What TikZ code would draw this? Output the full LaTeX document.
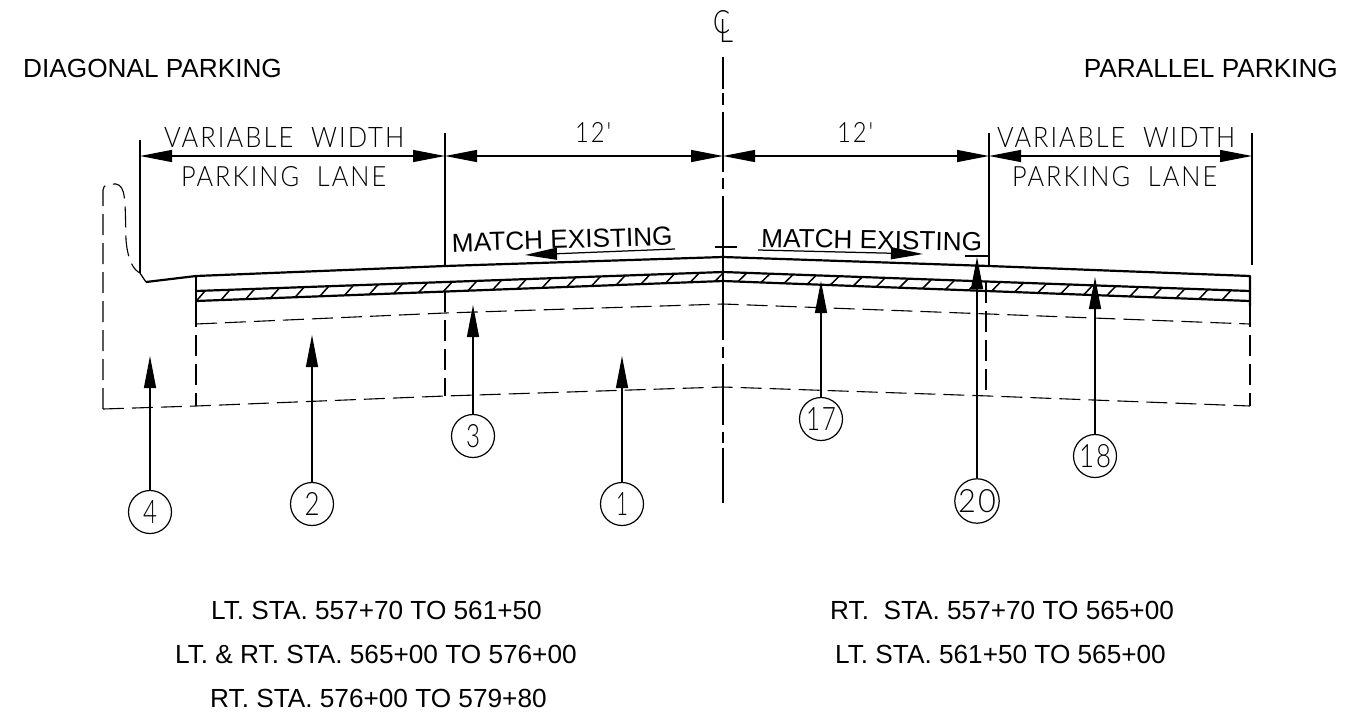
\documentclass[tikz,border=0pt]{standalone}
\usepackage{fontspec}
\usepackage{graphicx}
\usetikzlibrary{arrows.meta}
\setmainfont{Liberation Sans}
\newfontfamily\cadfont[LetterSpace=8]{Lato Light}
\newcommand{\cadt}[3]{\resizebox{#1pt}{#2pt}{\cadfont #3}}
\tikzset{
  thinln/.style={line width=1.25pt,black},
  thickln/.style={line width=2.2pt,black,line join=round},
  dashln/.style={line width=1.1pt,black,dash pattern=on 21pt off 8pt},
  hatchln/.style={line width=1.5pt,black},
  leader/.style={thinln,-{Triangle[length=32pt,width=12pt]}},
  balloon/.style={circle,draw,line width=1.2pt,minimum size=43pt,inner sep=0pt},
  sans/.style={font=\fontsize{26.2}{30}\selectfont,inner sep=0pt},
  cad/.style={inner sep=0pt,anchor=base west}
}
\begin{document}
\begin{tikzpicture}[x=1pt,y=-1pt]
\useasboundingbox (0,0) rectangle (1350,716);
\fill[white] (0,0) rectangle (1350,716);
% headings
\node[sans,anchor=base west] (hl) at (23,77) {DIAGONAL PARKING};
\node[sans,anchor=base east] (hr) at (1338,77) {PARALLEL PARKING};
\node[sans,anchor=base west] (s1) at (211,619) {LT. STA. 557+70 TO 561+50};
\node[sans,anchor=base west] (s2) at (175,663) {LT. \& RT. STA. 565+00 TO 576+00};
\node[sans,anchor=base west] (s3) at (210,707) {RT. STA. 576+00 TO 579+80};
\node[sans,anchor=base west] (s4) at (830,619) {RT.\ \ STA. 557+70 TO 565+00};
\node[sans,anchor=base west] (s5) at (835,663) {LT. STA. 561+50 TO 565+00};
\node[sans,anchor=base west,rotate=1.8] (m1) at (452,252) {MATCH EXISTING};
\node[sans,anchor=base west,rotate=-1] (m2) at (761,247) {MATCH EXISTING};
% centre line symbol
\node[cad] (cc) at (713,33) {\cadt{17}{23}{C}};
\node[cad] (cl) at (719,42) {\cadt{14}{23}{L}};
% centre line
\foreach \a/\b in {57/89,93/105,112/172,178/189,196/340,347/358,364/425,432/443,448/503}
  \draw[thinln] (723,\a) -- (723,\b);
\draw[thinln] (715,247) -- (737,247);
% extension lines
\coordinate (e1t) at (140,140); \coordinate (e1b) at (140,273);
\coordinate (e2t) at (445,133); \coordinate (e2b) at (445,266);
\coordinate (e3t) at (989,133); \coordinate (e3b) at (989,266);
\coordinate (e4t) at (1252,133); \coordinate (e4b) at (1252,265);
\draw[thinln] (e1t) -- (e1b);
\draw[thinln] (e2t) -- (e2b);
\draw[thinln] (e3t) -- (e3b);
\draw[thinln] (e4t) -- (e4b);
% dimension lines
\coordinate (d1) at (140,156); \coordinate (d2) at (445,156);
\coordinate (d3) at (723,156); \coordinate (d4) at (989,156);
\coordinate (d5) at (1252,156);
\coordinate (dm1) at (292,156); \coordinate (dm2) at (584,156);
\coordinate (dm3) at (856,156); \coordinate (dm4) at (1120,156);
\foreach \m/\p in {dm1/d1,dm1/d2,dm2/d2,dm2/d3,dm3/d3,dm3/d4,dm4/d4,dm4/d5}
  \draw[leader] (\m) -- (\p);
% dimension text
\node[cad] (v1) at (164,147) {\cadt{240}{20}{VARIABLE\ \ WIDTH}};
\node[cad] (p1) at (181,186) {\cadt{205}{20}{PARKING\ \ LANE}};
\node[cad] (v2) at (997,147) {\cadt{238}{20}{VARIABLE\ \ WIDTH}};
\node[cad] (p2) at (1012,186) {\cadt{205}{20}{PARKING\ \ LANE}};
\node[cad] (w1) at (575,142) {\cadt{36}{20}{12'}};
\node[cad] (w2) at (837,142) {\cadt{36}{20}{12'}};
% pavement
\draw[thickln] (146,282) -- (196,276) -- (445,266) -- (723,257) -- (989,266) -- (1250,276) -- (1250,306);
\draw[thickln] (196,276) -- (196,306);
\draw[thickln] (196,291) -- (723,272) -- (1250,291);
\draw[thickln] (196,301) -- (723,281) -- (1250,301);
\foreach \i in {0,...,21}{
  \pgfmathsetmacro{\xa}{715-\i*24.7}
  \pgfmathsetmacro{\ya}{281+(715-\xa+8)*20/527-0}
  \pgfmathsetmacro{\xb}{\xa+9}
  \pgfmathsetmacro{\yb}{272+(723-\xb)*19/527}
  \draw[hatchln] (\xa,\ya) -- (\xb,\yb);
}
\foreach \i in {0,...,21}{
  \pgfmathsetmacro{\xa}{738+\i*23.05}
  \pgfmathsetmacro{\ya}{281+(\xa-723)*20/527}
  \pgfmathsetmacro{\xb}{\xa+9}
  \pgfmathsetmacro{\yb}{272+(\xb-723)*19/527}
  \draw[hatchln] (\xa,\ya) -- (\xb,\yb);
}
% existing dashed layers
\draw[dashln] (196,324) -- (445,313) -- (723,304) -- (989,314) -- (1250,324);
\draw[dashln] (103,409) -- (196,406) -- (445,396) -- (723,387) -- (989,396) -- (1250,406);
\draw[dashln] (196,306) -- (196,406);
\draw[dashln] (445,291) -- (445,396);
\draw[dashln] (986,282) -- (986,396);
\draw[dashln] (1250,306) -- (1250,406);
\draw[dashln] (103,409) -- (103,190) .. controls (103,184) and (110,184) .. (116,184)
   .. controls (126,186) and (125,200) .. (126,240) .. controls (128,262) and (134,270) .. (140,273);
\draw[thinln] (140,273) -- (146,282);
% match arrows
\coordinate (a1s) at (675,249); \coordinate (a1e) at (525,255);
\coordinate (a2s) at (758,250); \coordinate (a2e) at (923,254);
\draw[leader] (a1s) -- (a1e);
\draw[leader] (a2s) -- (a2e);
\coordinate (t20a) at (965,256); \coordinate (t20b) at (989,256);
\draw[thinln] (t20a) -- (t20b);
% balloons
\node[balloon] (c4) at (150,512) {\cadt{14}{23}{4}};
\node[balloon] (c2) at (312,504) {\cadt{15}{23}{2}};
\node[balloon] (c3) at (473,436) {\cadt{14}{23}{3}};
\node[balloon] (c1) at (622,504) {\cadt{12}{23}{1}};
\node[balloon] (c17) at (821,419) {\cadt{30}{23}{17}};
\node[balloon] (c20) at (977,501) {\cadt{38}{23}{20}};
\node[balloon] (c18) at (1095,456) {\cadt{32}{23}{18}};
\coordinate (t4) at (150,356);
\coordinate (t2) at (312,335);
\coordinate (t3) at (473,305);
\coordinate (t1) at (622,356);
\coordinate (t17) at (821,281);
\coordinate (t20) at (977,257);
\coordinate (t18) at (1095,277);
\foreach \n in {4,2,3,1,17,20,18}
  \draw[leader] (c\n.north) -- (t\n);
\end{tikzpicture}
\end{document}
